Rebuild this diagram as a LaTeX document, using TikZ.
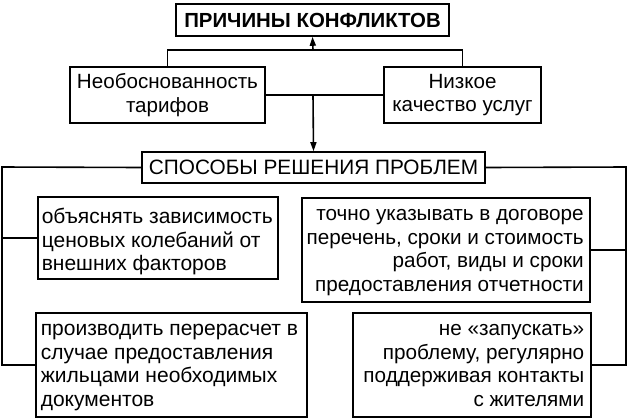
\documentclass[tikz,border=0pt]{standalone}
\usepackage{fontspec}
\setmainfont{Liberation Sans}
\usetikzlibrary{arrows.meta}
\begin{document}
\begin{tikzpicture}[x=1pt,y=-1pt,line width=1.6pt,
  box/.style={draw,inner sep=0pt},
  txt/.style={inner sep=0pt,font=\fontsize{21}{23.5}\selectfont},
  rtxt/.style={inner sep=0pt,font=\fontsize{20.7}{23.5}\selectfont},
  arr/.style={-{Triangle[length=9pt,width=6pt]}}]
\useasboundingbox (0,0) rectangle (628,418);
% top
\node[box,txt,minimum width=273pt,minimum height=32pt,font=\fontsize{20.4}{23}\selectfont\bfseries] (pk) at (312.5,20) {ПРИЧИНЫ КОНФЛИКТОВ};
\node[box,txt,align=center,minimum width=195pt,minimum height=56pt,font=\fontsize{20.6}{23.5}\selectfont] (nt) at (167.5,95) {Необоснованность\\тарифов};
\node[box,txt,align=center,minimum width=157pt,minimum height=56pt,font=\fontsize{20.6}{23.5}\selectfont] (nk) at (462.5,95) {Низкое\\качество услуг};
\node[box,txt,minimum width=343pt,minimum height=31pt,font=\fontsize{20.8}{23}\selectfont] (sp) at (313.5,167.5) {СПОСОБЫ РЕШЕНИЯ ПРОБЛЕМ};
% lower boxes
\node[box,minimum width=240pt,minimum height=82pt] (b1) at (158,238) {};
\node[box,minimum width=271pt,minimum height=104pt] (b2) at (171.5,365) {};
\node[box,minimum width=288pt,minimum height=104pt] (b3) at (446,250) {};
\node[box,minimum width=238pt,minimum height=104pt] (b4) at (472,365) {};
\node[txt,align=left,anchor=north west] (t1) at (41,206.5) {\strut объяснять зависимость\\ценовых колебаний от\\внешних факторов};
\node[txt,align=left,anchor=north west] (t2) at (40,318.5) {\strut производить перерасчет в\\случае предоставления\\жильцами необходимых\\документов};
\node[rtxt,align=right,anchor=north east] (t3) at (584.5,203.5) {\strut точно указывать в договоре\\перечень, сроки и стоимость\\работ, виды и сроки\\предоставления отчетности};
\node[rtxt,align=right,anchor=north east] (t4) at (585,318.5) {\strut не «запускать»\\проблему, регулярно\\поддерживая контакты\\с жителями};
% connectors top
\coordinate (j1) at (313,50);
\draw (nt.north) |- (j1) -| (nk.north);
\draw[arr] (j1) -- (pk.south);
\draw (nt.east) -- (nk.west);
\coordinate (j2) at (313,95);
\draw[arr] (j2) -- (sp.north);
% side buses
\coordinate (lt) at (2,167);
\coordinate (rt) at (626,167);
\draw (sp.west) -- (lt) |- (b2.west);
\draw (lt |- b1.west) -- (b1.west);
\draw (sp.east) -- (rt) |- (b4.east);
\draw (rt |- b3.east) -- (b3.east);
\end{tikzpicture}
\end{document}
